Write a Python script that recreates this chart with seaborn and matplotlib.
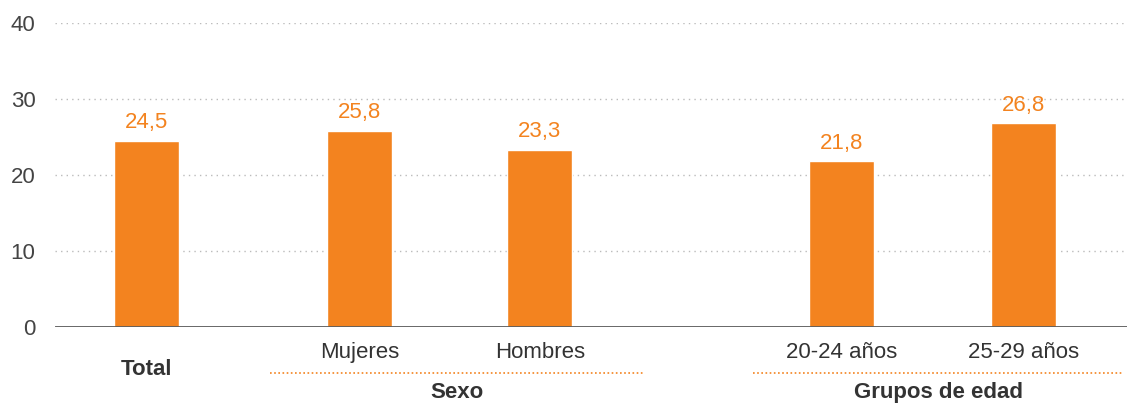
import matplotlib
matplotlib.use("Agg")
import matplotlib.pyplot as plt
import matplotlib.transforms as mtransforms
import seaborn as sns
import pandas as pd

# ---- data ----
categories = ["Total", "Mujeres", "Hombres", "20-24 años", "25-29 años"]
values = [24.5, 25.8, 23.3, 21.8, 26.8]
value_labels = ["24,5", "25,8", "23,3", "21,8", "26,8"]
groups = ["Sexo", "Grupos de edad"]
y_ticks = [0, 10, 20, 30, 40]

# ---- layout (positions in bar-spacing units) ----
positions = [0.0, 1.183, 2.183, 3.856, 4.867]

sns.set_theme(style="white")
plt.rcParams["font.family"] = ["Liberation Sans", "DejaVu Sans"]

ORANGE = "#F3831F"
DARK = "#333333"

fig = plt.figure(figsize=(11.27, 4.03), dpi=100)
ax = fig.add_axes([55 / 1127, 76 / 403, 1 - 55 / 1127, 304 / 403])

df = pd.DataFrame({"pos": positions, "val": values, "cat": categories})
sns.barplot(data=df, x="pos", y="val", native_scale=True, color=ORANGE,
            saturation=1, width=0.361, ax=ax, zorder=3)

ax.set_xlim(-0.511, 5.444)
ax.set_ylim(0, 40)
ax.set_xlabel("")
ax.set_ylabel("")

for s in ax.spines.values():
    s.set_visible(False)

ax.set_yticks(y_ticks)
ax.set_yticklabels([str(t) for t in y_ticks], fontsize=16, color="#444444")
ax.tick_params(axis="y", length=0, pad=14)
for t in y_ticks[1:]:
    ax.axhline(t, color="#bbbbbb", linestyle=(0, (1, 3)), linewidth=1, zorder=1)
ax.axhline(0, color="#5a5a5a", linewidth=2, zorder=4)

ax.set_xticks([])

# value labels
for p, v, lab in zip(positions, values, value_labels):
    ax.annotate(lab, (p, v), xytext=(0, 5.5), textcoords="offset points",
                ha="center", va="bottom", fontsize=16, color=ORANGE)

trans = mtransforms.blended_transform_factory(ax.transData, ax.transAxes)

# category labels
ax.text(positions[0], -0.141, categories[0], transform=trans, ha="center",
        va="center", fontsize=16, fontweight="bold", color=DARK)
for p, c in zip(positions[1:], categories[1:]):
    ax.text(p, -0.084, c, transform=trans, ha="center", va="center",
            fontsize=16, color=DARK)

# group separators and labels
def px2x(px):
    return -0.511 + (px - 55) / 180.0

group_spans = [(px2x(270), px2x(643)), (px2x(753), px2x(1123))]
for (x0, x1), g in zip(group_spans, groups):
    ax.plot([x0, x1], [-0.151, -0.151], transform=trans, color=ORANGE,
            linestyle=(0, (1, 1.5)), linewidth=1.2, clip_on=False)
    ax.text((x0 + x1) / 2, -0.216, g, transform=trans, ha="center",
            va="center", fontsize=16, fontweight="bold", color=DARK)

fig.savefig("out.png", dpi=100)
